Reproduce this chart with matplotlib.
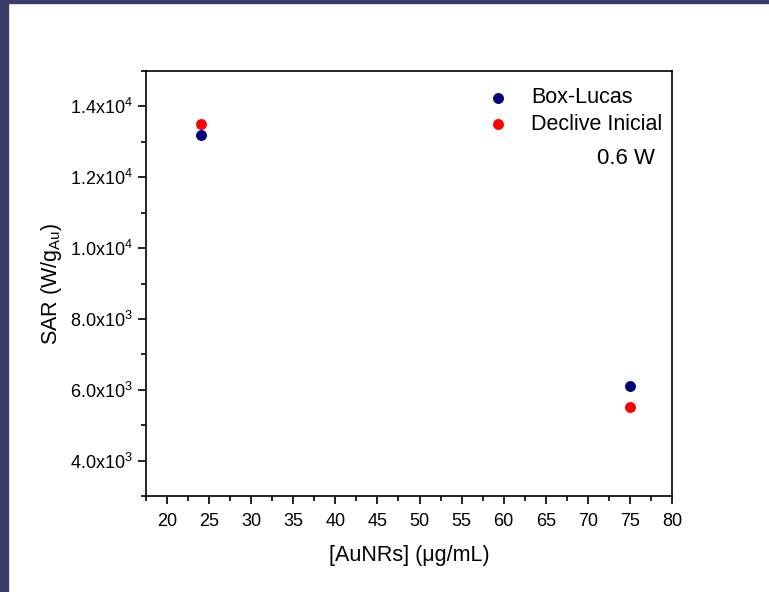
import matplotlib
matplotlib.use("Agg")
import math
import matplotlib.pyplot as plt
from matplotlib.ticker import MultipleLocator, FuncFormatter
from matplotlib.patches import Rectangle

plt.rcParams['font.family'] = ['Liberation Sans', 'DejaVu Sans']
plt.rcParams['mathtext.fontset'] = 'custom'
plt.rcParams['mathtext.rm'] = 'Liberation Sans'
plt.rcParams['mathtext.it'] = 'Liberation Sans:italic'
plt.rcParams['mathtext.default'] = 'regular'

concentration = [24, 75]
box_lucas = [13200, 6110]
declive_inicial = [13500, 5520]
series_names = ["Box-Lucas", "Declive Inicial"]
power_label = "0.6 W"

fig = plt.figure(figsize=(7.69, 5.92), dpi=100)
W, H = 769, 592
# dark frame on left and top
fig.patches.append(Rectangle((0, 0), 8 / W, 1, transform=fig.transFigure, color='#3a3d6b', zorder=0))
fig.patches.append(Rectangle((0, 1 - 3 / H), 1, 3 / H, transform=fig.transFigure, color='#3a3d6b', zorder=0))

ax = fig.add_axes([146 / W, 1 - 496 / H, (672 - 146) / W, (496 - 71) / H])
ax.scatter(concentration, box_lucas, s=62, color='#00007f', label=series_names[0], zorder=3, linewidths=0)
ax.scatter(concentration, declive_inicial, s=62, color='#ff0000', label=series_names[1], zorder=3, linewidths=0)

ax.set_xlim(17.5, 80)
ax.set_ylim(3000, 15000)
ax.xaxis.set_major_locator(MultipleLocator(5))
ax.xaxis.set_minor_locator(MultipleLocator(2.5))
ax.yaxis.set_major_locator(MultipleLocator(2000))
ax.yaxis.set_minor_locator(MultipleLocator(1000))

def yfmt(v, pos):
    if v <= 0:
        return ''
    e = int(math.floor(math.log10(v)))
    m = v / 10 ** e
    return f"{m:.1f}x10$^{{{e}}}$"

ax.yaxis.set_major_formatter(FuncFormatter(yfmt))
ax.xaxis.set_major_formatter(FuncFormatter(lambda v, p: f"{int(round(v))}"))

ax.tick_params(axis='both', which='major', direction='out', length=6, width=1.2, labelsize=13, top=False, right=False)
ax.tick_params(axis='x', which='major', pad=6)
ax.tick_params(axis='both', which='minor', direction='out', length=3.5, width=1.2, top=False, right=False)
for s in ax.spines.values():
    s.set_linewidth(1.2)

ax.set_xlabel("[AuNRs] (μg/mL)", fontsize=15.5, labelpad=11)
ax.set_ylabel("SAR (W/g$_{Au}$)", fontsize=15.5, labelpad=4)

leg = ax.legend(loc='upper right', frameon=False, fontsize=15.5, handletextpad=0.95,
                bbox_to_anchor=(1.011, 0.997), borderaxespad=0.3, labelspacing=0.25,
                markerscale=1.0, scatterpoints=1, handlelength=1.2)
ax.text(0.968, 0.795, power_label, transform=ax.transAxes, fontsize=16, ha='right', va='center')

fig.savefig("out.png", dpi=100)
